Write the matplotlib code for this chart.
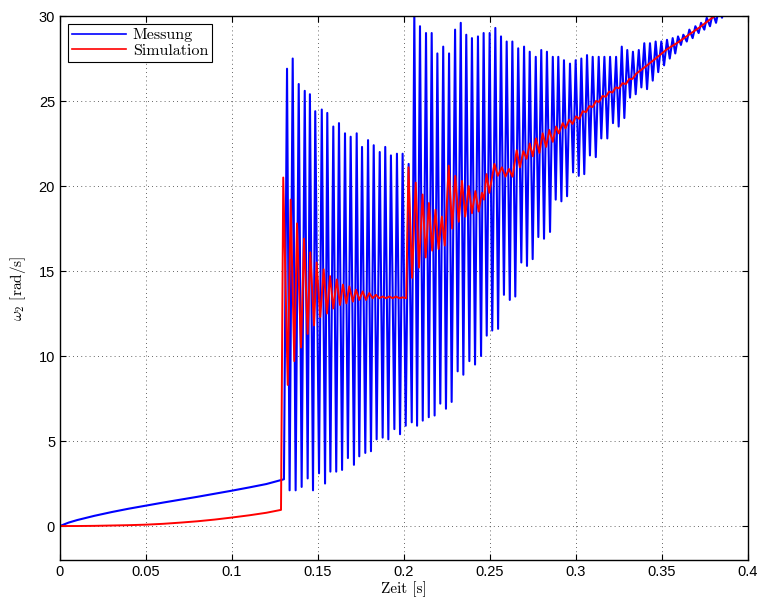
import numpy as np
import matplotlib
matplotlib.use("Agg")
import matplotlib.pyplot as plt

plt.rcParams['mathtext.fontset'] = 'cm'
plt.rcParams['axes.unicode_minus'] = False

# --- Messung (blue): smooth ramp, then a fast oscillation (times in ms) ---
meas_ramp_t = [0, 5, 10, 20, 30, 40, 50, 60, 70, 80, 90, 100, 110, 120, 130.2]
meas_ramp_w = [0, 0.2, 0.35, 0.6, 0.82, 1.02, 1.2, 1.38, 1.55, 1.72, 1.9, 2.08, 2.27, 2.47, 2.75]

meas_peak_t = [132.0, 135.3, 138.8, 142.3, 145.3, 148.4, 152.2, 155.4, 158.9, 162.2,
               165.7, 169.0, 172.5, 175.6, 179.1, 182.4, 185.9, 189.1, 192.4, 195.9,
               199.2, 202.7, 206.0, 209.3, 212.8, 216.1, 219.4, 222.8, 226.2, 229.7,
               233.0, 236.2, 239.5, 243.0, 246.3, 249.8, 253.1, 256.4, 259.7, 263.0,
               266.4, 269.8, 273.1, 276.6, 279.8, 283.1, 286.5, 289.7, 293.0, 296.5,
               299.8, 303.1, 306.4, 309.7, 313.2, 316.5, 319.8, 323.3, 326.6, 329.8,
               333.1, 336.5, 339.7, 343.0, 346.3, 349.6, 352.9, 356.2, 359.3, 362.4,
               365.9, 369.4, 372.7, 376.0, 379.5, 383.0, 386.2]
meas_peak_w = [26.9, 27.5, 26.0, 25.6, 25.4, 24.4, 24.5, 24.3, 23.5, 23.7,
               23.1, 22.9, 23.1, 22.3, 22.7, 22.4, 22.0, 22.3, 21.8, 21.9,
               21.9, 21.3, 30.2, 29.4, 29.0, 29.0, 27.8, 28.2, 27.8, 29.2,
               29.6, 28.9, 28.7, 28.8, 29.0, 29.0, 29.3, 28.8, 28.5, 28.5,
               28.1, 28.2, 27.9, 27.6, 28.0, 27.9, 27.6, 27.6, 27.4, 27.2,
               27.4, 27.5, 27.7, 27.6, 27.6, 27.6, 27.6, 27.6, 28.2, 28.0,
               27.9, 28.0, 28.4, 28.4, 28.5, 28.5, 28.6, 28.7, 28.8, 28.9,
               29.2, 29.4, 29.6, 29.9, 30.2, 30.4, 30.6]

meas_trough_t = [133.5, 137.0, 140.5, 144.0, 147.1, 150.6, 154.1, 157.2, 160.6, 164.0,
                 167.4, 170.9, 174.0, 177.5, 180.8, 184.1, 187.6, 190.9, 194.4, 197.7,
                 201.0, 204.5, 207.6, 210.9, 214.4, 217.8, 221.1, 224.4, 227.7, 231.2,
                 234.5, 238.0, 241.3, 244.8, 248.1, 251.3, 254.7, 258.1, 261.5, 264.7,
                 268.2, 271.5, 274.8, 278.1, 281.4, 284.9, 288.2, 291.5, 294.8, 298.3,
                 301.6, 304.8, 308.1, 311.5, 314.7, 318.2, 321.5, 324.8, 328.1, 331.4,
                 334.7, 338.0, 341.3, 344.6, 347.8, 351.2, 354.5, 357.7, 361.0, 364.4,
                 367.8, 371.3, 374.6, 377.9, 381.4, 384.9]
meas_trough_w = [2.1, 2.1, 2.3, 2.8, 2.1, 3.1, 2.5, 3.2, 3.2, 3.3,
                 4.0, 3.6, 4.1, 4.3, 4.4, 5.1, 5.2, 5.1, 5.7, 5.4,
                 5.9, 6.1, 5.9, 6.2, 6.4, 6.5, 7.2, 6.9, 7.3, 9.1,
                 8.9, 9.7, 9.5, 10.0, 11.2, 11.5, 11.6, 13.6, 13.3, 13.5,
                 15.5, 15.3, 15.7, 17.0, 16.9, 17.3, 19.2, 19.1, 19.4, 20.8,
                 20.6, 20.7, 21.8, 21.7, 22.8, 22.8, 23.7, 23.5, 24.0, 25.2,
                 25.4, 25.8, 25.7, 26.2, 26.7, 27.1, 27.5, 27.8, 28.3, 28.5,
                 28.7, 29.0, 29.2, 29.4, 29.6, 29.9]

# --- Simulation (red), times in ms ---
sim_t = [0, 10, 20, 30, 40, 50, 60, 70, 80, 90, 100, 110, 120, 128.5,
         129.8, 132.4, 134.1, 136.2, 137.8, 140.1, 141.9, 144.0, 145.5, 147.7,
         149.2, 151.3, 153.3, 155.2, 157.0, 158.9, 160.9, 162.8, 164.5, 166.5,
         168.2, 170.3, 172.1, 174.0, 176.0, 177.9, 179.8, 181.8, 183.7, 185.6,
         187.6, 189.5, 191.5, 193.4, 195.3, 197.3, 199.2, 201.3,
         202.6, 204.7, 206.8, 208.7, 210.8, 212.6, 214.5, 216.4, 218.3, 220.1,
         222.0, 223.7, 226.0, 228.0, 229.8, 231.8, 233.7, 235.6, 237.6, 239.5,
         241.5, 243.4, 245.3, 246.5, 248.0, 249.6, 252.6, 254.5, 256.9, 259.0,
         261.0, 263.1, 265.5, 267.4, 269.4, 271.3, 273.1, 274.9, 276.7, 278.7,
         280.6, 282.6, 284.5, 286.5, 288.4, 290.0, 292.3, 293.9, 296.1, 298.0,
         300.0, 301.9, 303.9, 305.8, 307.7, 309.7, 311.6, 313.4, 315.4, 317.3,
         319.2, 321.2, 323.1, 325.0, 327.0, 329.0, 331.0, 332.8, 334.9, 340.7,
         346.9, 352.9, 359.3, 366.3, 372.1, 377.9, 380.8, 388.4]
sim_w = [0, 0.0, 0.01, 0.03, 0.05, 0.08, 0.13, 0.2, 0.28, 0.38, 0.5, 0.63, 0.78, 0.95,
         20.5, 8.3, 19.2, 9.7, 17.8, 10.5, 16.9, 11.3, 16.1, 11.8,
         15.5, 12.3, 15.1, 12.5, 14.7, 12.8, 14.5, 13.0, 14.2, 13.1,
         14.1, 13.2, 13.9, 13.3, 13.8, 13.3, 13.7, 13.4, 13.6, 13.4,
         13.5, 13.4, 13.5, 13.4, 13.5, 13.4, 13.45, 13.4,
         21.1, 14.6, 20.2, 15.2, 19.5, 15.8, 19.0, 16.2, 18.6, 16.3,
         18.2, 16.5, 21.2, 17.5, 20.6, 17.9, 20.3, 18.2, 20.0, 18.4,
         19.7, 18.5, 19.6, 19.2, 20.7, 19.6, 21.3, 20.6, 21.1, 20.55,
         21.0, 20.55, 22.1, 21.1, 22.05, 21.6, 22.5, 21.75, 22.8, 21.95,
         23.1, 22.3, 23.3, 22.6, 23.5, 23.1, 23.7, 23.4, 23.9, 23.65,
         24.1, 23.95, 24.4, 24.35, 24.7, 24.65, 25.0, 24.95, 25.3, 25.25,
         25.55, 25.5, 25.8, 25.75, 26.05, 26.0, 26.3, 26.3, 26.6, 27.05,
         27.55, 28.05, 28.45, 28.95, 29.35, 29.8, 30.0, 30.5]

x_ticks = [0, 0.05, 0.1, 0.15, 0.2, 0.25, 0.3, 0.35, 0.4]
x_tick_labels = ['0', '0.05', '0.1', '0.15', '0.2', '0.25', '0.3', '0.35', '0.4']
y_ticks = [0, 5, 10, 15, 20, 25, 30]

# put the oscillation extremes in time order after the ramp
osc_t = np.concatenate([meas_peak_t, meas_trough_t])
osc_w = np.concatenate([meas_peak_w, meas_trough_w])
order = np.argsort(osc_t)
meas_t = np.concatenate([meas_ramp_t, osc_t[order]]) / 1000.0
meas_w = np.concatenate([meas_ramp_w, osc_w[order]])
sim_t = np.array(sim_t) / 1000.0

fig = plt.figure(figsize=(7.65, 6.07), dpi=100)
ax = fig.add_axes([0.0784, 0.0774, 0.8994, 0.8962])

ax.plot(meas_t, meas_w, color='#0000ff', lw=1.5, label='Messung')
ax.plot(sim_t, sim_w, color='#ff0000', lw=1.4, label='Simulation')

ax.set_xlim(0, 0.4)
ax.set_ylim(-2, 30)
ax.set_xticks(x_ticks)
ax.set_xticklabels(x_tick_labels)
ax.set_yticks(y_ticks)
ax.grid(True, color='#333333', linestyle=(0, (1, 4)), linewidth=0.6)
ax.tick_params(direction='in', length=4, width=0.8, top=True, right=True,
               labelsize=10.5)
for lab in ax.get_xticklabels() + ax.get_yticklabels():
    lab.set_fontfamily('Liberation Sans')
for sp in ax.spines.values():
    sp.set_linewidth(1.0)

ax.set_xlabel('Zeit [s]', fontfamily='cmr10', fontsize=11, labelpad=2)
ax.set_ylabel(r'$\omega_2$ [rad/s]', fontfamily='cmr10', fontsize=11, labelpad=8)

leg = ax.legend(loc='upper left', prop={'family': 'cmr10', 'size': 11.5},
                fancybox=False, framealpha=1, edgecolor='k',
                borderaxespad=0.5, handlelength=3.4, borderpad=0.25,
                labelspacing=0.1, handletextpad=0.4)
leg.get_frame().set_linewidth(0.8)
for h in leg.get_lines():
    h.set_linewidth(1.2)

fig.savefig('out.png', dpi=100)
